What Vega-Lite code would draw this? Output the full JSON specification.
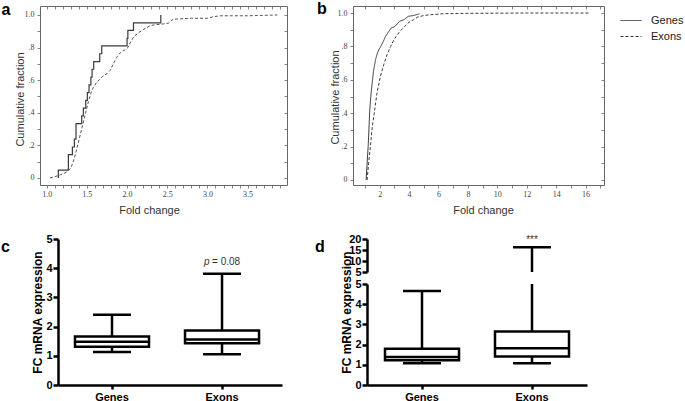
{
"$schema":"https://vega.github.io/schema/vega-lite/v6.json",
"padding":{"left":1,"top":0,"right":0,"bottom":0},
"background":"white",
"config":{"view":{"stroke":null},"font":"Liberation Sans","axis":{"grid":false},"title":{"font":"Liberation Sans","fontSize":16,"fontWeight":"bold","color":"black","anchor":"start","frame":"group"}},
"datasets":{
"ga":[{"i":0,"fc":1.145,"cf":0},{"i":1,"fc":1.145,"cf":0.048},{"i":2,"fc":1.27,"cf":0.143},{"i":3,"fc":1.32,"cf":0.19},{"i":4,"fc":1.345,"cf":0.238},{"i":5,"fc":1.365,"cf":0.333},{"i":6,"fc":1.436,"cf":0.381},{"i":7,"fc":1.456,"cf":0.429},{"i":8,"fc":1.486,"cf":0.476},{"i":9,"fc":1.506,"cf":0.524},{"i":10,"fc":1.527,"cf":0.571},{"i":11,"fc":1.55,"cf":0.619},{"i":12,"fc":1.565,"cf":0.667},{"i":13,"fc":1.585,"cf":0.714},{"i":14,"fc":1.66,"cf":0.762},{"i":15,"fc":1.685,"cf":0.81},{"i":16,"fc":2.0,"cf":0.857},{"i":17,"fc":2.01,"cf":0.905},{"i":18,"fc":2.08,"cf":0.952},{"i":19,"fc":2.42,"cf":1.0}],
"ea":[{"fc":1.04,"cf":0},{"fc":1.1,"cf":0.008},{"fc":1.15,"cf":0.016},{"fc":1.2,"cf":0.025},{"fc":1.25,"cf":0.037},{"fc":1.3,"cf":0.06},{"fc":1.33,"cf":0.1},{"fc":1.36,"cf":0.15},{"fc":1.39,"cf":0.21},{"fc":1.42,"cf":0.27},{"fc":1.45,"cf":0.33},{"fc":1.48,"cf":0.39},{"fc":1.52,"cf":0.47},{"fc":1.55,"cf":0.52},{"fc":1.58,"cf":0.555},{"fc":1.62,"cf":0.585},{"fc":1.66,"cf":0.605},{"fc":1.7,"cf":0.625},{"fc":1.75,"cf":0.64},{"fc":1.79,"cf":0.66},{"fc":1.83,"cf":0.7},{"fc":1.87,"cf":0.74},{"fc":1.92,"cf":0.77},{"fc":1.97,"cf":0.785},{"fc":2.01,"cf":0.8},{"fc":2.05,"cf":0.84},{"fc":2.09,"cf":0.87},{"fc":2.14,"cf":0.89},{"fc":2.2,"cf":0.91},{"fc":2.29,"cf":0.935},{"fc":2.35,"cf":0.94},{"fc":2.45,"cf":0.945},{"fc":2.52,"cf":0.95},{"fc":2.56,"cf":0.97},{"fc":2.62,"cf":0.975},{"fc":2.8,"cf":0.98},{"fc":3.0,"cf":0.98},{"fc":3.08,"cf":0.99},{"fc":3.17,"cf":0.995},{"fc":3.5,"cf":0.995},{"fc":3.87,"cf":1.0}],
"b":[{"s":"Genes","fc":1.08,"cf":0},{"s":"Genes","fc":1.22,"cf":0.2},{"s":"Genes","fc":1.33,"cf":0.42},{"s":"Genes","fc":1.4,"cf":0.5},{"s":"Genes","fc":1.48,"cf":0.57},{"s":"Genes","fc":1.58,"cf":0.65},{"s":"Genes","fc":1.72,"cf":0.72},{"s":"Genes","fc":1.83,"cf":0.755},{"s":"Genes","fc":1.95,"cf":0.78},{"s":"Genes","fc":2.08,"cf":0.8},{"s":"Genes","fc":2.25,"cf":0.83},{"s":"Genes","fc":2.4,"cf":0.86},{"s":"Genes","fc":2.55,"cf":0.88},{"s":"Genes","fc":2.78,"cf":0.91},{"s":"Genes","fc":3.05,"cf":0.92},{"s":"Genes","fc":3.2,"cf":0.935},{"s":"Genes","fc":3.35,"cf":0.95},{"s":"Genes","fc":3.65,"cf":0.96},{"s":"Genes","fc":3.95,"cf":0.98},{"s":"Genes","fc":4.3,"cf":0.985},{"s":"Genes","fc":4.7,"cf":0.995},
{"s":"Exons","fc":1.15,"cf":0},{"s":"Exons","fc":1.25,"cf":0.1},{"s":"Exons","fc":1.36,"cf":0.19},{"s":"Exons","fc":1.5,"cf":0.32},{"s":"Exons","fc":1.6,"cf":0.38},{"s":"Exons","fc":1.82,"cf":0.52},{"s":"Exons","fc":2.05,"cf":0.62},{"s":"Exons","fc":2.28,"cf":0.69},{"s":"Exons","fc":2.5,"cf":0.75},{"s":"Exons","fc":2.75,"cf":0.8},{"s":"Exons","fc":2.97,"cf":0.84},{"s":"Exons","fc":3.2,"cf":0.87},{"s":"Exons","fc":3.43,"cf":0.895},{"s":"Exons","fc":3.7,"cf":0.92},{"s":"Exons","fc":4.0,"cf":0.945},{"s":"Exons","fc":4.3,"cf":0.96},{"s":"Exons","fc":4.57,"cf":0.975},{"s":"Exons","fc":5.0,"cf":0.985},{"s":"Exons","fc":5.5,"cf":0.99},{"s":"Exons","fc":6.4,"cf":0.996},{"s":"Exons","fc":8,"cf":0.998},{"s":"Exons","fc":10,"cf":0.999},{"s":"Exons","fc":12,"cf":1.0},{"s":"Exons","fc":16.3,"cf":1.0}],
"bc":[{"g":"Genes","min":1.13,"q1":1.31,"med":1.48,"q3":1.66,"max":2.41},{"g":"Exons","min":1.05,"q1":1.43,"med":1.56,"q3":1.87,"max":3.81}],
"bd":[{"g":"Genes","min":1.08,"q1":1.23,"med":1.39,"q3":1.8,"max":4.65},{"g":"Exons","min":1.08,"q1":1.41,"med":1.82,"q3":2.65,"max":16.25}]
},
"spacing":18,
"vconcat":[
{"bounds":"flush","spacing":66,"hconcat":[
{"width":247,"height":179,
 "title":{"text":"a","dx":-38.5,"offset":-25,"baseline":"alphabetic"},
 "layer":[
  {"data":{"name":"ga"},"mark":{"type":"line","interpolate":"step-after","color":"#3a3a3a","strokeWidth":1.2},
   "encoding":{
    "x":{"field":"fc","type":"quantitative","scale":{"domain":[0.917,3.99],"nice":false,"zero":false},
      "axis":{"orient":"bottom","values":[1.0,1.1,1.2,1.3,1.4,1.5,1.6,1.7,1.8,1.9,2.0,2.1,2.2,2.3,2.4,2.5,2.6,2.7,2.8,2.9,3.0,3.1,3.2,3.3,3.4,3.5,3.6,3.7,3.8,3.9],"labelExpr":"round(datum.value*10)%5==0 ? format(datum.value,'.1f') : ''","tickSize":3,"tickColor":"#666","tickWidth":0.8,"domainColor":"#666","domainWidth":1,"labelFont":"Liberation Serif","labelFontSize":8,"labelColor":"#444","labelPadding":2,"labelOverlap":false,"labelFlush":false,"title":"Fold change","titleFont":"Liberation Sans","titleFontSize":11,"titleFontWeight":"normal","titleColor":"#333","titleX":109,"titleY":25,"titleBaseline":"middle","titleAlign":"center"}},
    "y":{"field":"cf","type":"quantitative","scale":{"domain":[-0.043,1.055],"nice":false,"zero":false},
      "axis":{"orient":"left","values":[0,0.1,0.2,0.3,0.4,0.5,0.6,0.7,0.8,0.9,1.0],"labelExpr":"datum.value<0.01 ? '0' : datum.value>0.99 ? '1.0' : round(datum.value*10)%2==0 ? '.'+round(datum.value*10) : ''","tickSize":3,"tickColor":"#666","tickWidth":0.8,"domainColor":"#666","domainWidth":1,"labelFont":"Liberation Serif","labelFontSize":8,"labelColor":"#444","labelPadding":3,"labelOverlap":false,"title":"Cumulative fraction","titleFont":"Liberation Sans","titleFontSize":11,"titleFontWeight":"normal","titleColor":"#333","titleX":-20,"titleY":93,"titleBaseline":"middle","titleAlign":"center","titleAngle":270}},
    "order":{"field":"i"}}},
  {"data":{"name":"ea"},"mark":{"type":"line","color":"#555","strokeWidth":1,"strokeDash":[3,2]},
   "encoding":{"x":{"field":"fc","type":"quantitative","axis":null},"y":{"field":"cf","type":"quantitative","axis":null}}},
  {"data":{"name":"ea"},"mark":{"type":"point","opacity":0},
   "encoding":{"x":{"field":"fc","type":"quantitative","axis":{"orient":"bottom","offset":-179,"values":[1.0,1.1,1.2,1.3,1.4,1.5,1.6,1.7,1.8,1.9,2.0,2.1,2.2,2.3,2.4,2.5,2.6,2.7,2.8,2.9,3.0,3.1,3.2,3.3,3.4,3.5,3.6,3.7,3.8,3.9],"labels":false,"title":null,"tickSize":3,"tickColor":"#666","tickWidth":0.8,"domainColor":"#666","domainWidth":1}},
    "y":{"field":"cf","type":"quantitative","axis":{"orient":"left","offset":-247,"values":[0,0.1,0.2,0.3,0.4,0.5,0.6,0.7,0.8,0.9,1.0],"labels":false,"title":null,"tickSize":3,"tickColor":"#666","tickWidth":0.8,"domainColor":"#666","domainWidth":1}}}}
 ],
 "resolve":{"axis":{"x":"independent","y":"independent"}}
},
{"width":251,"height":179,
 "title":{"text":"b","dx":-36,"offset":-24,"baseline":"alphabetic"},
 "data":{"name":"b"},
 "layer":[
  {"mark":{"type":"line","color":"#3a3a3a","strokeWidth":1},
   "encoding":{
    "x":{"field":"fc","type":"quantitative","scale":{"domain":[0.19,17.25],"nice":false,"zero":false},
      "axis":{"orient":"bottom","values":[1,2,3,4,5,6,7,8,9,10,11,12,13,14,15,16,17],"labelExpr":"datum.value%2==0 ? ''+datum.value : ''","tickSize":3,"tickColor":"#666","tickWidth":0.8,"domainColor":"#666","domainWidth":1,"labelFont":"Liberation Serif","labelFontSize":8,"labelColor":"#444","labelPadding":2,"labelOverlap":false,"labelFlush":false,"title":"Fold change","titleFont":"Liberation Sans","titleFontSize":11,"titleFontWeight":"normal","titleColor":"#333","titleX":130,"titleY":25,"titleBaseline":"middle","titleAlign":"center"}},
    "y":{"field":"cf","type":"quantitative","scale":{"domain":[-0.03,1.042],"nice":false,"zero":false},
      "axis":{"orient":"left","values":[0,0.1,0.2,0.3,0.4,0.5,0.6,0.7,0.8,0.9,1.0],"labelExpr":"datum.value<0.01 ? '0' : datum.value>0.99 ? '1.0' : round(datum.value*10)%2==0 ? '.'+round(datum.value*10) : ''","tickSize":3,"tickColor":"#666","tickWidth":0.8,"domainColor":"#666","domainWidth":1,"labelFont":"Liberation Serif","labelFontSize":8,"labelColor":"#444","labelPadding":3,"labelOverlap":false,"title":"Cumulative fraction","titleFont":"Liberation Sans","titleFontSize":11,"titleFontWeight":"normal","titleColor":"#333","titleX":-18,"titleY":91,"titleBaseline":"middle","titleAlign":"center","titleAngle":270}},
    "strokeDash":{"field":"s","type":"nominal","scale":{"domain":["Genes","Exons"],"range":[[1,0],[3,2]]},
      "legend":{"orient":"none","legendX":580,"legendY":3.5,"title":null,"symbolType":"stroke","symbolSize":441,"symbolStrokeWidth":1,"symbolStrokeColor":"#333","labelFont":"Liberation Sans","labelFontSize":11,"labelColor":"#222","labelOffset":9,"rowPadding":-1}}}},
  {"mark":{"type":"point","opacity":0},
   "encoding":{"x":{"field":"fc","type":"quantitative","axis":{"orient":"bottom","offset":-179,"values":[1,2,3,4,5,6,7,8,9,10,11,12,13,14,15,16,17],"labels":false,"title":null,"tickSize":3,"tickColor":"#666","tickWidth":0.8,"domainColor":"#666","domainWidth":1}},
    "y":{"field":"cf","type":"quantitative","axis":{"orient":"left","offset":-251,"values":[0,0.1,0.2,0.3,0.4,0.5,0.6,0.7,0.8,0.9,1.0],"labels":false,"title":null,"tickSize":3,"tickColor":"#666","tickWidth":0.8,"domainColor":"#666","domainWidth":1}}}}
 ],
 "resolve":{"axis":{"x":"independent","y":"independent"}}
}
]},
{"bounds":"flush","spacing":0,"hconcat":[
{"width":18,"height":1,"data":{"values":[]},"mark":"point"},
{"width":224,"height":146,"data":{"name":"bc"},
 "title":{"text":"c","dx":-57,"offset":-35,"baseline":"alphabetic"},
 "encoding":{"x":{"field":"g","type":"nominal","sort":["Genes","Exons"],"scale":{"paddingInner":0.2,"paddingOuter":0.118,"align":0.385},
   "axis":{"title":null,"labelAngle":0,"labelFontWeight":"bold","labelFontSize":11,"labelColor":"black","labelPadding":2,"tickSize":4,"tickWidth":2.5,"tickColor":"black","domainWidth":2.5,"domainColor":"black","labelOverlap":false}}},
 "layer":[
  {"mark":{"type":"rule","color":"black","strokeWidth":2.5},
   "encoding":{"y":{"field":"min","type":"quantitative","scale":{"domain":[0,5],"nice":false},
     "axis":{"values":[0,1,2,3,4,5],"labelOverlap":false,"tickSize":5,"tickWidth":2.5,"tickColor":"black","domainWidth":2.5,"domainColor":"black","labelFontWeight":"bold","labelFontSize":11,"labelColor":"black","labelPadding":1,"title":"FC mRNA expression","titleFontSize":12,"titleFontWeight":"bold","titleColor":"black","titleX":-21,"titleY":73,"titleBaseline":"middle","titleAlign":"center","titleAngle":270}},
    "y2":{"field":"max"}}},
  {"mark":{"type":"bar","size":74,"fill":"white","stroke":"black","strokeWidth":2.5},"encoding":{"y":{"field":"q1","type":"quantitative","axis":{"values":[0,1,2,3,4,5]}},"y2":{"field":"q3"}}},
  {"mark":{"type":"tick","size":74,"thickness":2.5,"color":"black","opacity":1},"encoding":{"y":{"field":"med","type":"quantitative","axis":{"values":[0,1,2,3,4,5]}}}},
  {"mark":{"type":"tick","size":38,"thickness":2.5,"color":"black","opacity":1},"encoding":{"y":{"field":"min","type":"quantitative","axis":{"values":[0,1,2,3,4,5]}}}},
  {"mark":{"type":"tick","size":38,"thickness":2.5,"color":"black","opacity":1},"encoding":{"y":{"field":"max","type":"quantitative","axis":{"values":[0,1,2,3,4,5]}}}},
  {"transform":[{"filter":"datum.g=='Exons'"}],"mark":{"type":"text","text":"p","fontStyle":"italic","fontSize":10,"align":"left","dx":-18,"baseline":"middle","color":"#333"},"encoding":{"y":{"datum":4.2,"axis":{"values":[0,1,2,3,4,5]}}}},
  {"transform":[{"filter":"datum.g=='Exons'"}],"mark":{"type":"text","text":"= 0.08","fontSize":10,"align":"left","dx":-10,"baseline":"middle","color":"#333"},"encoding":{"y":{"datum":4.2,"axis":{"values":[0,1,2,3,4,5]}}}}
 ]
},
{"width":85,"height":1,"data":{"values":[]},"mark":"point"},
{"bounds":"flush","spacing":12,"vconcat":[
 {"width":220,"height":33,"data":{"name":"bd"},
  "title":{"text":"d","dx":-52,"offset":-35,"baseline":"alphabetic"},
  "encoding":{"x":{"field":"g","type":"nominal","sort":["Genes","Exons"],"scale":{"paddingInner":0,"paddingOuter":0},"axis":null}},
  "layer":[
   {"mark":{"type":"rule","color":"black","strokeWidth":2.5,"clip":true},
    "encoding":{"y":{"field":"min","type":"quantitative","scale":{"domain":[5,20],"nice":false,"zero":false},
      "axis":{"values":[5,10,15,20],"labelOverlap":false,"tickSize":5,"tickWidth":2.5,"tickColor":"black","domainWidth":2.5,"domainColor":"black","labelFontWeight":"bold","labelFontSize":11,"labelColor":"black","labelPadding":1,"title":null}},
     "y2":{"field":"max"}}},
   {"transform":[{"filter":"datum.max>5"}],"mark":{"type":"tick","size":38,"thickness":2.5,"color":"black","opacity":1,"clip":true},"encoding":{"y":{"field":"max","type":"quantitative","axis":{"values":[5,10,15,20]}}}},
   {"transform":[{"filter":"datum.g=='Exons'"}],"mark":{"type":"text","text":"***","fontSize":10,"baseline":"middle","color":"#333"},"encoding":{"y":{"datum":19.4,"axis":{"values":[5,10,15,20]}}}}
  ]
 },
 {"width":220,"height":101,"data":{"name":"bd"},
  "encoding":{"x":{"field":"g","type":"nominal","sort":["Genes","Exons"],"scale":{"paddingInner":0,"paddingOuter":0},
    "axis":{"title":null,"labelAngle":0,"labelFontWeight":"bold","labelFontSize":11,"labelColor":"black","labelPadding":2,"tickSize":4,"tickWidth":2.5,"tickColor":"black","domainWidth":2.5,"domainColor":"black","labelOverlap":false}}},
  "layer":[
   {"mark":{"type":"rule","color":"black","strokeWidth":2.5,"clip":true},
    "encoding":{"y":{"field":"min","type":"quantitative","scale":{"domain":[0,5],"nice":false},
      "axis":{"values":[0,1,2,3,4,5],"labelOverlap":false,"tickSize":5,"tickWidth":2.5,"tickColor":"black","domainWidth":2.5,"domainColor":"black","labelFontWeight":"bold","labelFontSize":11,"labelColor":"black","labelPadding":1,"title":"FC mRNA expression","titleFontSize":12,"titleFontWeight":"bold","titleColor":"black","titleX":-21,"titleY":28,"titleBaseline":"middle","titleAlign":"center","titleAngle":270}},
     "y2":{"field":"max"}}},
   {"mark":{"type":"bar","size":74,"fill":"white","stroke":"black","strokeWidth":2.5},"encoding":{"y":{"field":"q1","type":"quantitative","axis":{"values":[0,1,2,3,4,5]}},"y2":{"field":"q3"}}},
   {"mark":{"type":"tick","size":74,"thickness":2.5,"color":"black","opacity":1},"encoding":{"y":{"field":"med","type":"quantitative","axis":{"values":[0,1,2,3,4,5]}}}},
   {"mark":{"type":"tick","size":38,"thickness":2.5,"color":"black","opacity":1},"encoding":{"y":{"field":"min","type":"quantitative","axis":{"values":[0,1,2,3,4,5]}}}},
   {"mark":{"type":"tick","size":38,"thickness":2.5,"color":"black","opacity":1,"clip":true},"encoding":{"y":{"field":"max","type":"quantitative","axis":{"values":[0,1,2,3,4,5]}}}}
  ]
 }
]}
]}
]
}
